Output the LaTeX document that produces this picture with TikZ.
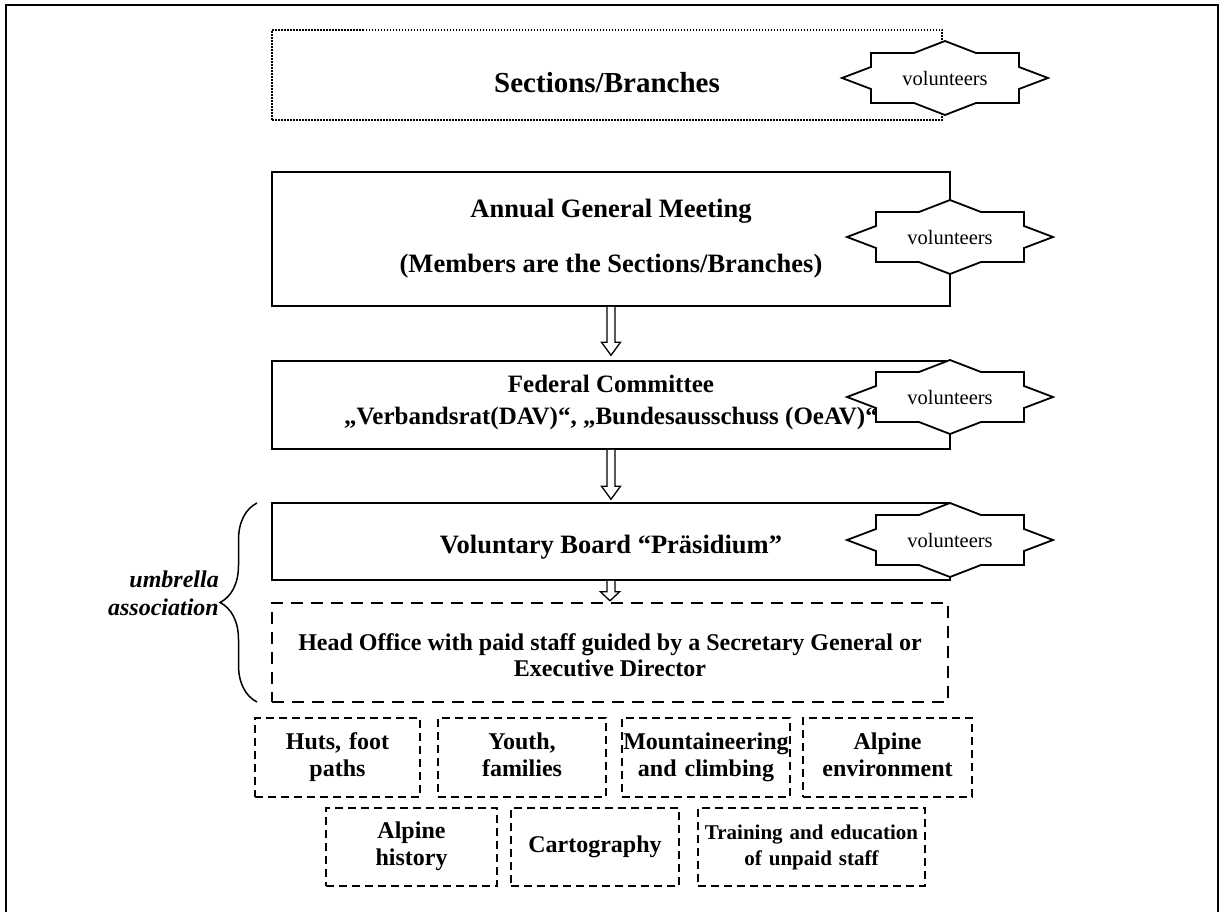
\documentclass[tikz,border=0pt]{standalone}
\usepackage{fontspec}
\setmainfont{Liberation Serif}
\usetikzlibrary{calc,positioning,decorations.pathreplacing}

% star shaped "volunteers" badge
\newcommand\volstar[2]{%
  \draw[starline,shift={(#2)}] (-74,-25) -- (-31,-25) -- (0,-37) -- (31,-25) -- (74,-25)
    -- (74,-11) -- (103,0) -- (74,11) -- (74,25) -- (31,25) -- (0,37) -- (-31,25)
    -- (-74,25) -- (-74,11) -- (-103,0) -- (-74,-11) -- cycle;
  \node[startext] (#1) at (#2) {volunteers};}

% hollow down arrow between two boxes
\newcommand\hollowarrow[4]{%
  \draw[arrowline] ($(#1.south)+(-4,0)$) |- ($(#2.north)+(-9.5,-#3-#4)$)
    -- ($(#2.north)+(0,-#3)$) -- ($(#2.north)+(9.5,-#3-#4)$) -| ($(#1.south)+(4,0)$);}

\begin{document}
\begin{tikzpicture}[x=1pt,y=-1pt,
  boxS/.style={draw,line width=1.5pt,inner sep=0pt},
  boxD/.style={draw,line width=1.5pt,dash pattern=on 1.5pt off 1.5pt,inner sep=0pt},
  boxH/.style={draw,line width=2.4pt,dash pattern=on 12pt off 8pt,inner sep=0pt},
  boxU/.style={draw,line width=1.8pt,dash pattern=on 8pt off 5pt,inner sep=0pt,
    align=center,font=\fontsize{24pt}{27pt}\selectfont\bfseries,
    execute at begin node=\strut,execute at end node=\strut},
  title/.style={inner sep=0pt,align=center,font=\fontsize{26.5pt}{31pt}\selectfont\bfseries},
  starline/.style={draw,line width=1.8pt,fill=white,line join=miter},
  startext/.style={inner sep=0pt,font=\fontsize{20.5pt}{24pt}\selectfont},
  arrowline/.style={draw,line width=1.3pt,fill=white},
  bracestyle/.style={draw,line width=1.5pt,decorate,decoration={brace,amplitude=37pt}}
]
  \useasboundingbox (0,0) rectangle (1221,912);
  % outer frame
  \draw[line width=2pt] (6,930) -- (6,5) -- (1218,5) -- (1218,930);

  % boxes with a star
  \node[boxD,minimum width=670pt,minimum height=90pt] (sections) at (607,75) {};
  \node[boxS,minimum width=678pt,minimum height=134pt] (agm) at (611,239) {};
  \node[boxS,minimum width=678pt,minimum height=88pt] (fed) at (611,405) {};
  \node[boxS,minimum width=678pt,minimum height=77pt] (board) at (611,541.5) {};

  \volstar{star1}{945,78}
  \volstar{star2}{950,237}
  \volstar{star3}{950,397}
  \volstar{star4}{950,540}

  \node[title,font=\fontsize{29pt}{34pt}\selectfont\bfseries] (sectext) at (607,83) {Sections/Branches};
  \node[title] (agmtext) at (611,239)
    {Annual General Meeting\\[24pt](Members are the Sections/Branches)};
  \node[title,font=\fontsize{25pt}{32pt}\selectfont\bfseries] (fedtext) at (611,402)
    {Federal Committee\\„Verbandsrat(DAV)“, „Bundesausschuss (OeAV)“};
  \node[title] (boardtext) at (611,547) {Voluntary Board “Präsidium”};

  % head office and umbrella brace
  \node[boxH,minimum width=676pt,minimum height=99pt] (office) at (610,652.5) {};
  \node[title,font=\fontsize{24pt}{26pt}\selectfont\bfseries] (officetext) at (610,655)
    {Head Office with paid staff guided by a Secretary General or\\Executive Director};

  \hollowarrow{agm}{fed}{5}{13}
  \hollowarrow{fed}{board}{3}{13}
  \hollowarrow{board}{office}{1}{9}

  \coordinate (bracelow) at (257,702);
  \coordinate (bracetop) at (257,503);
  \draw[bracestyle] (bracelow) -- (bracetop);
  \node[inner sep=0pt,anchor=east,align=right,
    font=\fontsize{24pt}{28pt}\selectfont\bfseries\itshape] (umbrella) at (219,593)
    {umbrella\\association};

  % departments
  \node[boxU,minimum width=165pt,minimum height=79pt,text width=165pt] (huts) at (337.5,757.5) {Huts, foot\\paths};
  \node[boxU,minimum width=168pt,minimum height=79pt,text width=168pt] (youth) at (522,757.5) {Youth,\\families};
  \node[boxU,minimum width=168pt,minimum height=79pt,text width=168pt] (mount) at (706,757.5) {Mountaineering\\and climbing};
  \node[boxU,minimum width=169pt,minimum height=79pt,text width=169pt] (envi) at (887.5,757.5) {Alpine\\environment};

  \node[boxU,minimum width=171pt,minimum height=78pt,text width=171pt] (hist) at (411.5,847) {Alpine\\history};
  \node[boxU,minimum width=168pt,minimum height=78pt,text width=168pt] (carto) at (595,847) {Cartography};
  \node[boxU,minimum width=227pt,minimum height=78pt,text width=227pt,
    font=\fontsize{21pt}{26pt}\selectfont\bfseries] (train) at (811.5,847) {Training and education\\of unpaid staff};
\end{tikzpicture}
\end{document}
